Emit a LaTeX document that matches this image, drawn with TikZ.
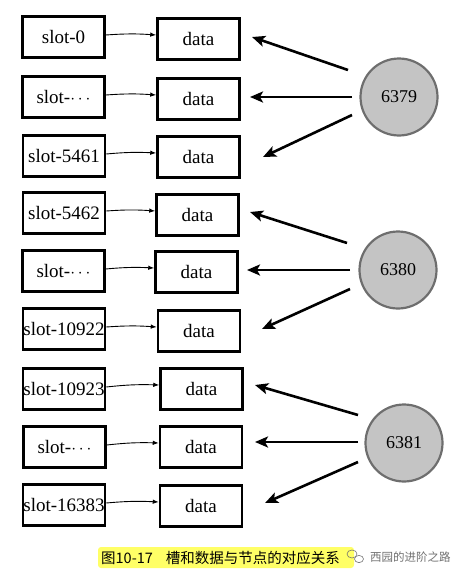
\documentclass[tikz,border=0pt]{standalone}
\usepackage{fontspec}
\setmainfont{Liberation Serif}
\newfontfamily\cjk{Noto Sans CJK SC}
\usetikzlibrary{arrows.meta,calc}
\definecolor{circfill}{HTML}{C4C4C4}
\definecolor{circline}{HTML}{6E6E6E}
\definecolor{hl}{HTML}{FFFF66}
\definecolor{wm}{HTML}{707070}
\begin{document}
\begin{tikzpicture}[x=1pt,y=-1pt,
  box/.style={draw,line width=2.5pt,minimum width=82pt,minimum height=41pt,inner sep=0pt,font=\fontsize{19}{19}\selectfont},
  small/.style={line width=0.9pt,-{Latex[length=6pt,width=4.5pt]}},
  big/.style={line width=2.6pt,-{Stealth[length=13pt,width=11pt,inset=3pt]}},
  server/.style={circle,draw=circline,fill=circfill,line width=2.2pt,minimum size=77pt,inner sep=0pt,font=\fontsize{18}{18}\selectfont}]
\useasboundingbox (0,0) rectangle (451,573);
% slots
\node[box] (s1) at (63.5,37) {slot-0};
\node[box] (s2) at (63.5,97) {slot-$\cdots$};
\node[box] (s3) at (64,156) {slot-5461};
\node[box] (s4) at (64,213) {slot-5462};
\node[box] (s5) at (63.5,271) {slot-$\cdots$};
\node[box] (s6) at (64,329) {slot-10922};
\node[box] (s7) at (64,389) {slot-10923};
\node[box] (s8) at (64.5,447) {slot-$\cdots$};
\node[box] (s9) at (64,505) {slot-16383};
% data
\node[box] (d1) at (198.5,39) {data};
\node[box] (d2) at (198.5,99) {data};
\node[box] (d3) at (198.5,157) {data};
\node[box] (d4) at (197.5,215) {data};
\node[box] (d5) at (196.5,272) {data};
\node[box] (d6) at (199,331) {data};
\node[box] (d7) at (201.5,389) {data};
\node[box] (d8) at (201,447) {data};
\node[box] (d9) at (201,506) {data};
% slot -> data
\foreach \i in {1,...,9}{
  \draw[small] ($(s\i.east)+(0,-2)$) to[bend left=4] ($(d\i.west)+(0,-4)$);
}
% servers
\node[server] (c1) at (399,97) {6379};
\node[server] (c2) at (398,270) {6380};
\node[server] (c3) at (404,443) {6381};
% arrow endpoints
\coordinate (t1a) at (348,70);  \coordinate (h1a) at (252,37);
\coordinate (t1b) at (352,97);  \coordinate (h1b) at (250,97);
\coordinate (t1c) at (352,115); \coordinate (h1c) at (263,157);
\coordinate (t2a) at (347,243); \coordinate (h2a) at (250,212);
\coordinate (t2b) at (350,270); \coordinate (h2b) at (247,270);
\coordinate (t2c) at (350,289); \coordinate (h2c) at (262,329);
\coordinate (t3a) at (358,415); \coordinate (h3a) at (255,385);
\coordinate (t3b) at (358,442); \coordinate (h3b) at (255,442);
\coordinate (t3c) at (358,462); \coordinate (h3c) at (265,503);
\foreach \c in {1,2,3}{
  \foreach \r in {a,b,c}{
    \draw[big] (t\c\r) -- (h\c\r);
  }
}
% caption
\fill[hl,rounded corners=3pt] (98,547) rectangle (354,568);
\node[anchor=west,inner sep=0pt,font=\cjk\fontsize{14.5}{14.5}\selectfont] (cap) at (101,557.5) {图10-17\hspace{13pt}槽和数据与节点的对应关系};
% watermark
\node[anchor=west,inner sep=0pt,text=wm,font=\cjk\fontsize{11.5}{11.5}\selectfont] (wmk) at (370,557) {西园的进阶之路};
\draw[wm,line width=0.6pt] (352,554) ellipse (5pt and 4pt);
\draw[wm,line width=0.6pt,fill=white] (359,559) ellipse (4.5pt and 3.6pt);
\end{tikzpicture}
\end{document}
